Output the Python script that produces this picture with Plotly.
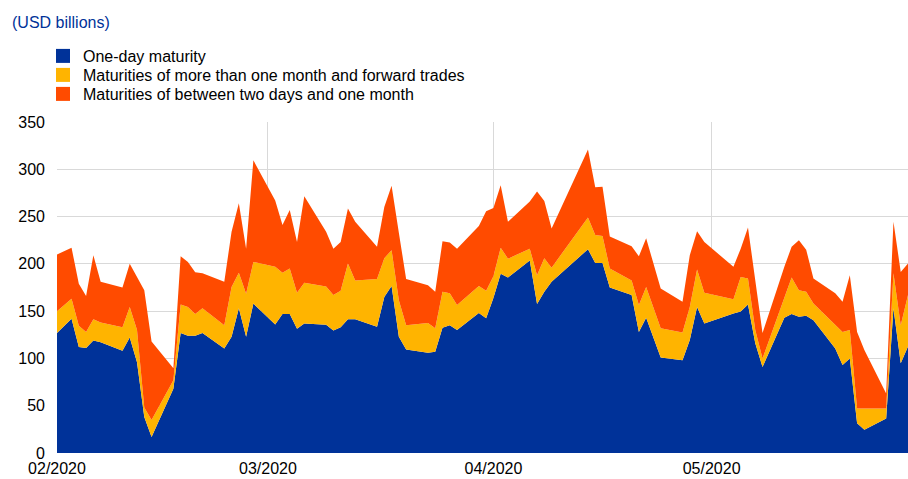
import plotly.graph_objects as go

dates = ["2020-01-31", "2020-02-03", "2020-02-04", "2020-02-05", "2020-02-06", "2020-02-07",
         "2020-02-10", "2020-02-11", "2020-02-12", "2020-02-13", "2020-02-14",
         "2020-02-17", "2020-02-18", "2020-02-19", "2020-02-20", "2020-02-21",
         "2020-02-24", "2020-02-25", "2020-02-26", "2020-02-27", "2020-02-28",
         "2020-03-02", "2020-03-03", "2020-03-04", "2020-03-05", "2020-03-06",
         "2020-03-09", "2020-03-10", "2020-03-11", "2020-03-12", "2020-03-13",
         "2020-03-16", "2020-03-17", "2020-03-18", "2020-03-19", "2020-03-20",
         "2020-03-23", "2020-03-24", "2020-03-25", "2020-03-26", "2020-03-27",
         "2020-03-30", "2020-03-31", "2020-04-01", "2020-04-02", "2020-04-03",
         "2020-04-06", "2020-04-07", "2020-04-08", "2020-04-09",
         "2020-04-14", "2020-04-15", "2020-04-16", "2020-04-17",
         "2020-04-20", "2020-04-21", "2020-04-22", "2020-04-23", "2020-04-24",
         "2020-04-27", "2020-04-28", "2020-04-29", "2020-04-30",
         "2020-05-04", "2020-05-05", "2020-05-06", "2020-05-07", "2020-05-08",
         "2020-05-11", "2020-05-12", "2020-05-13", "2020-05-14", "2020-05-15",
         "2020-05-18", "2020-05-19", "2020-05-20", "2020-05-21", "2020-05-22",
         "2020-05-25", "2020-05-26", "2020-05-27", "2020-05-28"]

one_day = [119.5, 142, 112, 111, 119, 117,
           108, 122, 96, 38, 17,
           68, 127, 124, 124, 127,
           110.5, 123, 153, 123, 158,
           136, 147, 147, 131.5, 137,
           135.5, 129.5, 133, 141.5, 141.5,
           133.5, 165, 176.5, 123, 109.5,
           106, 107, 132.5, 135, 130,
           148, 142.5, 164, 189.5, 185.5,
           203.5, 157.5, 170.5, 181,
           215.5, 201, 201, 175,
           167, 128, 143, 121, 101,
           98, 119.5, 154.5, 137,
           147.5, 149.5, 157, 116, 91,
           143, 147, 144, 145, 140.5,
           110.5, 93, 100, 31.5, 24.5,
           36.5, 153, 95, 112.5]

over_one_month = [24, 21, 22.5, 17, 22.5, 21,
                  25, 32.5, 34, 10, 18,
                  9, 30, 30.5, 23, 26,
                  24.5, 52.5, 37.5, 45.5, 44,
                  61, 43.5, 48, 38, 43,
                  40.5, 37.5, 38.5, 59, 41,
                  50.5, 41, 38, 38.5, 25.5,
                  31.5, 25, 38, 34, 26.5,
                  28.5, 29, 23, 27.5, 20,
                  12.5, 30.5, 35.5, 15,
                  33.5, 29.5, 28.5, 20,
                  15.5, 28.5, 32.5, 32, 31,
                  29.5, 35, 39.5, 32.5,
                  15, 36.5, 27.5, 14, 9,
                  22, 38.5, 28, 25.5, 17.5,
                  24.5, 35, 30, 15.5, 22.5,
                  10.5, 37, 40, 54.5]

two_days_one_month = [63, 54, 44.5, 38, 67.5, 43,
                      42, 45.5, 56, 124, 83,
                      12.5, 51, 47.5, 44, 37,
                      46, 58.5, 73.5, 47.5, 107.5,
                      70, 50.5, 62, 53.5, 91.5,
                      58, 49, 51.5, 58, 62,
                      34, 54, 68, 71.5, 49,
                      40, 38.5, 53.5, 53.5, 59.5,
                      63.5, 84, 72, 66, 39,
                      50, 88.5, 60.5, 41.5,
                      72, 50.5, 52, 34,
                      36, 51.5, 51.5, 46, 42,
                      32.5, 54.5, 40.5, 53.5,
                      34.5, 30, 54, 52.5, 27,
                      32, 32.5, 53, 44.5, 26.5,
                      34, 32, 58, 81, 62,
                      16, 54.5, 56.5, 33.5]

series_names = ["One-day maturity",
                "Maturities of more than one month and forward trades",
                "Maturities of between two days and one month"]
series_values = [one_day, over_one_month, two_days_one_month]
series_colors = ["#003299", "#FFB400", "#FF4B00"]

tick_dates = ["2020-02-01", "2020-03-01", "2020-04-01", "2020-05-01"]
tick_labels = ["02/2020", "03/2020", "04/2020", "05/2020"]

FONT = "Liberation Sans, Arial, sans-serif"
W, H = 908, 479
ML, MR, MT, MB = 57, 0, 122, 26

fig = go.Figure()
for name, vals, col in zip(series_names, series_values, series_colors):
    fig.add_trace(go.Scatter(
        x=dates, y=vals, name=name, mode="lines", stackgroup="one",
        line=dict(width=0, color=col), fillcolor=col, showlegend=False,
        hoverinfo="x+y+name"))

legend_ids = ["legend", "legend2", "legend3"]
legend_rows = [56, 75, 94]
for name, col, lid in zip(series_names, series_colors, legend_ids):
    fig.add_trace(go.Scatter(
        x=[None], y=[None], name=name, mode="markers", legend=lid,
        marker=dict(symbol="square", size=14, color=col), showlegend=True))

legend_common = dict(xref="paper", yref="container", xanchor="left", yanchor="middle",
                     font=dict(family=FONT, size=16, color="#000000"),
                     bgcolor="rgba(0,0,0,0)", borderwidth=0,
                     itemclick=False, itemdoubleclick=False)
legend_layout = {}
for lid, row in zip(legend_ids, legend_rows):
    legend_layout[lid] = dict(x=(43 - ML) / (W - ML - MR), y=1 - row / H, **legend_common)

fig.update_layout(
    width=W, height=H,
    margin=dict(l=ML, r=MR, t=MT, b=MB, autoexpand=False),
    paper_bgcolor="white", plot_bgcolor="white",
    font=dict(family=FONT, size=16, color="#000000"),
    title=dict(text="(USD billions)", x=12 / W, xref="container", xanchor="left",
               y=1 - 22 / H, yref="container", yanchor="middle",
               font=dict(family=FONT, size=16, color="#003299")),
    showlegend=True,
    hovermode="x",
    **legend_layout,
)

fig.update_xaxes(
    type="date", range=["2020-02-01", "2020-05-28"],
    tickvals=tick_dates, ticktext=tick_labels,
    showgrid=True, gridcolor="#d9d9d9", gridwidth=1,
    showline=False, zeroline=False, ticks="", ticklabelstandoff=4,
    tickfont=dict(family=FONT, size=16, color="#000000"),
)
fig.update_yaxes(
    range=[0, 350], tickvals=[0, 50, 100, 150, 200, 250, 300, 350],
    showgrid=True, gridcolor="#d9d9d9", gridwidth=1,
    showline=False, zeroline=False, ticks="", ticklabelstandoff=11,
    tickfont=dict(family=FONT, size=16, color="#000000"),
)

fig.write_html("out.html", config={"displayModeBar": False},
               post_script="document.body.style.margin='0';")
